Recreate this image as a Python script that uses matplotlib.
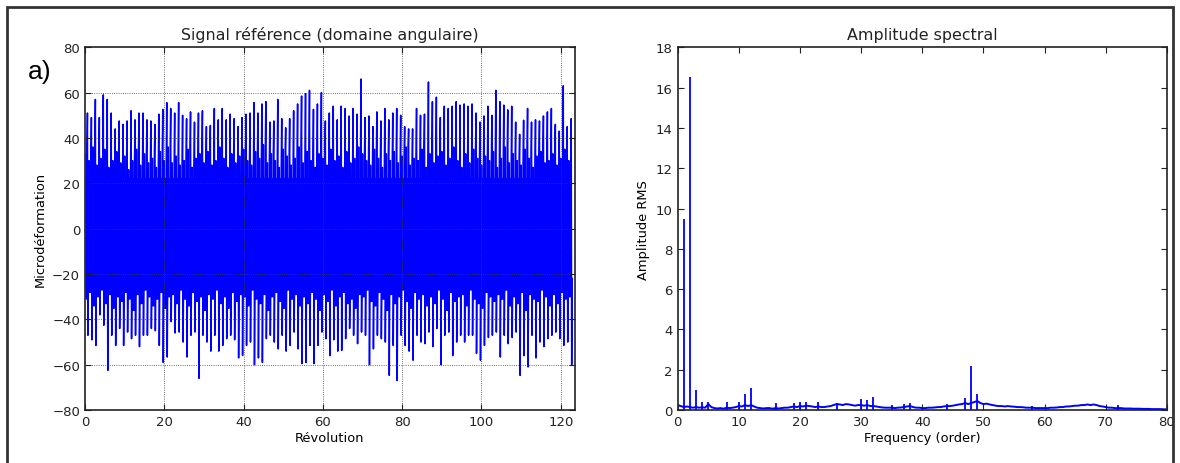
import numpy as np
import matplotlib
matplotlib.use("Agg")
import matplotlib.pyplot as plt
from matplotlib.patches import Rectangle

# --- left panel: one impulse per revolution (upper / lower peak) ---
peak_hi = [51, 49, 57, 49, 59, 57, 51, 44, 47.5, 46, 47.5, 52, 48, 51, 51, 48,
           47.5, 46, 50.5, 52.6, 55.6, 53, 51, 55.6, 50, 48.5, 51.5, 47, 51, 52, 45,
           45.5, 53, 48, 53, 48, 50.5, 48.5, 45, 49, 50.5, 51, 55.6, 51, 55, 56, 47,
           47.5, 57, 48.5, 44.5, 48.5, 52, 55, 58.5, 59.5, 61, 52.6, 55, 60, 47.5, 51,
           54, 48, 54, 53, 49.7, 53, 50.5, 66, 49, 49.7, 45, 51.5, 47.5, 53, 48, 51,
           53, 50, 45, 44, 44, 53, 50, 50.5, 64.7, 56, 58, 49, 54, 53,
           54, 56, 54.5, 55, 54, 55, 51, 47, 49.7, 54, 50, 61, 56, 54.5, 52.4, 54,
           47, 41.6, 47.8, 53, 47, 48, 47.5, 49.7, 51.5, 53, 46, 43, 63, 45, 48.5]
peak_lo = [-47, -49, -51.5, -38, -42.6, -62.5, -47, -51.5, -44, -51.5, -45.6, -48.5,
           -47, -52, -47, -47, -44, -45, -51.5, -59, -56.6, -41, -46, -45.6, -50,
           -56.6, -47, -45.6, -66, -47, -50,
           -54, -47, -54, -51.5, -48.5, -47, -49, -57, -55.9, -51.5, -50, -60, -57,
           -59, -48.5, -47, -50, -53, -47, -54, -51.5, -45.6, -53, -59.5, -59, -51.5,
           -59.5, -51.5, -45.6, -48.5, -56,
           -49, -54, -53.7, -48.5, -44, -47, -50.7, -45.6, -47, -60, -53, -47, -48.5,
           -50, -64.7, -51.5, -67, -47, -51.5, -54, -58, -47, -50, -50.7, -45.6, -52,
           -44, -60, -47, -45.6,
           -56, -50, -47, -50, -47, -47, -55, -58, -51.5, -48, -47, -45.6, -56.6, -47,
           -50.7, -48, -45.6, -64.7, -56, -61, -47, -57, -50, -52, -48.5, -47, -45.6,
           -48.5, -51.5, -50, -60]
# ragged edge of the dense part, one value per revolution
band_hi = [33, 30, 36, 28, 31, 35, 27, 30, 34, 29, 32, 26, 30, 35, 28, 33, 29, 31, 27, 34,
           30, 36, 29, 32, 28, 30, 35, 27, 31, 33, 29, 34, 28, 30, 36, 31, 27, 33, 29, 32,
           35, 30, 28, 34, 31, 37, 29, 33, 30, 27, 35, 32, 28, 31, 36, 29, 34, 30, 27, 33,
           31, 28, 35, 30, 32, 27, 34, 29, 31, 36, 33, 30, 28, 35, 31, 27, 33, 30, 34, 29,
           32, 36, 28, 31, 30, 35, 27, 33, 29, 32, 34, 28, 31, 36, 30, 27, 33, 29, 35, 31,
           28, 32, 30, 34, 27, 31, 36, 29, 33, 30, 28, 35, 31, 27, 32, 34, 29, 30, 33, 28,
           31, 35, 30]
band_lo = [-31, -28, -34, -30, -27, -33, -29, -35, -30, -32, -28, -31, -36, -29, -33, -27, -30, -34, -31, -28,
           -35, -30, -29, -33, -27, -31, -34, -28, -32, -30, -36, -29, -31, -27, -33, -30, -35, -28, -32, -29,
           -30, -34, -27, -31, -33, -29, -36, -30, -28, -32, -35, -27, -31, -29, -34, -30, -33, -28, -31, -36,
           -29, -32, -27, -34, -30, -28, -33, -31, -35, -29, -30, -27, -32, -34, -28, -31, -36, -29, -33, -30,
           -27, -32, -35, -28, -31, -29, -34, -30, -33, -27, -31, -36, -28, -32, -30, -29, -34, -27, -31, -33,
           -35, -28, -30, -32, -29, -31, -27, -34, -30, -33, -28, -36, -29, -31, -32, -27, -30, -34, -29, -33,
           -28, -31, -30]
# level of the solid core
core_hi = 22
core_lo = -22

# --- right panel: spectrum background (every 0.5 order) and discrete peaks ---
spec_base = [0.25, 0.2, 0.15, 0.18, 0.15, 0.12, 0.15, 0.12, 0.14, 0.12,
             0.3, 0.15, 0.1, 0.08, 0.1, 0.07, 0.12, 0.1, 0.12, 0.15,
             0.2, 0.18, 0.25, 0.2, 0.25, 0.18, 0.12, 0.1, 0.08, 0.1,
             0.1, 0.07, 0.1, 0.08, 0.1, 0.12, 0.12, 0.15, 0.18, 0.15,
             0.2, 0.18, 0.22, 0.2, 0.18, 0.15, 0.18, 0.15, 0.15, 0.18,
             0.2, 0.25, 0.3, 0.28, 0.25, 0.3, 0.28, 0.25, 0.22, 0.25,
             0.25, 0.22, 0.25, 0.2, 0.2, 0.18, 0.15, 0.13, 0.12, 0.12,
             0.12, 0.1, 0.12, 0.13, 0.15, 0.18, 0.2, 0.15, 0.12, 0.12,
             0.1, 0.1, 0.12, 0.12, 0.13, 0.15, 0.15, 0.18, 0.2, 0.2,
             0.22, 0.25, 0.28, 0.3, 0.35, 0.3, 0.35, 0.4, 0.45, 0.35,
             0.3, 0.32, 0.28, 0.25, 0.22, 0.2, 0.2, 0.18, 0.2, 0.18,
             0.17, 0.15, 0.15, 0.14, 0.12, 0.12, 0.12, 0.1, 0.1, 0.1,
             0.1, 0.1, 0.12, 0.12, 0.13, 0.15, 0.15, 0.18, 0.18, 0.2,
             0.22, 0.22, 0.25, 0.25, 0.28, 0.25, 0.28, 0.25, 0.2, 0.18,
             0.15, 0.12, 0.12, 0.1, 0.1, 0.1, 0.08, 0.08, 0.08, 0.07,
             0.07, 0.07, 0.06, 0.06, 0.06, 0.05, 0.05, 0.05, 0.05, 0.04, 0.04]
peak_orders = [1, 2, 3, 4, 5, 8, 10, 11, 12, 16, 19, 20, 21, 23, 26, 30, 31, 32,
               35, 37, 38, 44, 47, 48, 49, 58, 72]
peak_amps = [9.5, 16.5, 1.0, 0.4, 0.4, 0.4, 0.4, 0.8, 1.1, 0.35, 0.35, 0.4, 0.4,
             0.4, 0.35, 0.55, 0.5, 0.65, 0.25, 0.3, 0.35, 0.3, 0.6, 2.2, 0.8, 0.2, 0.25]

# build the angular signal: dense band + impulse each revolution
sig_x, sig_y = [], []
for i in range(len(peak_hi)):
    vals = [band_hi[i], band_lo[i], core_hi, band_lo[i], band_hi[i],
            peak_hi[i], peak_lo[i], core_lo]
    for k, v in enumerate(vals):
        sig_x.append(i + k / len(vals))
        sig_y.append(v)

txt = "#222222"
plt.rcParams["font.family"] = "DejaVu Sans"
plt.rcParams["text.color"] = txt
plt.rcParams["xtick.color"] = txt
plt.rcParams["ytick.color"] = txt
plt.rcParams["axes.edgecolor"] = "#222222"

fig = plt.figure(figsize=(11.8, 4.64), dpi=100)
ax1 = fig.add_axes([0.072, 0.114, 0.415, 0.782])
ax2 = fig.add_axes([0.5743, 0.114, 0.4146, 0.782])

ax1.plot(sig_x, sig_y, color="b", lw=1.1)
ax1.set_xlim(0, 123.5)
ax1.set_ylim(-80, 80)
ax1.set_xticks(range(0, 121, 20))
ax1.set_yticks(range(-80, 81, 20))
ax1.grid(True, linestyle=":", color="0.25", lw=0.6)
ax1.set_axisbelow(False)
ax1.set_title("Signal référence (domaine angulaire)", fontsize=11.4)
ax1.set_xlabel("Révolution", fontsize=9.4, labelpad=2)
ax1.set_ylabel("Microdéformation", fontsize=9.4)

base_x = np.arange(len(spec_base)) * 0.5
ax2.plot(base_x, spec_base, color="b", lw=1.4)
ax2.vlines(peak_orders, 0, peak_amps, color="b", lw=1.3)
ax2.set_xlim(0, 80)
ax2.set_ylim(0, 18)
ax2.set_xticks(range(0, 81, 10))
ax2.set_yticks(range(0, 19, 2))
ax2.set_title("Amplitude spectral", fontsize=11.4)
ax2.set_xlabel("Frequency (order)", fontsize=9.4, labelpad=2)
ax2.set_ylabel("Amplitude RMS", fontsize=9.4)

for ax in (ax1, ax2):
    ax.tick_params(direction="in", top=True, right=True, labelsize=9.5, length=4)
    for s in ax.spines.values():
        s.set_linewidth(1.2)

fig.text(0.024, 1 - 72 / 464, "a)", fontsize=19, family="Liberation Sans",
         color="black", va="center")
fig.patches.append(Rectangle((7 / 1180, -0.05), 1166 / 1180, 1.05 - 8 / 464,
                             transform=fig.transFigure, fill=False,
                             edgecolor="#333333", lw=2))

fig.savefig("out.png", dpi=100)
